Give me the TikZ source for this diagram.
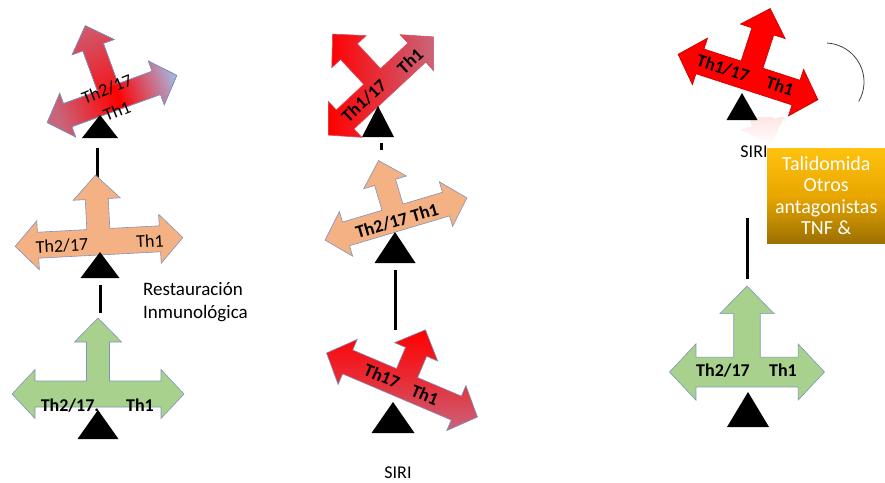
\documentclass[tikz,border=0pt]{standalone}
\usepackage{fontspec}
\setmainfont{Carlito}
\usetikzlibrary{calc}
\definecolor{sage}{HTML}{A9D18E}
\definecolor{peach}{HTML}{F4B183}
\definecolor{rose}{HTML}{C9647A}
\definecolor{skyish}{HTML}{A6BAE6}
\definecolor{slateedge}{HTML}{7F93BC}
\definecolor{tnftop}{HTML}{FFC20E}
\definecolor{tnfmid}{HTML}{E8A600}
\definecolor{tnfbot}{HTML}{9C7000}
\tikzset{
  fork/.style={draw=slateedge, line width=0.6pt, line join=miter},
  fulcrum/.style={fill=black},
  lever/.style={draw=black, line width=3pt},
  arcline/.style={draw=black!75, line width=0.8pt},
  lbl/.style={font=\fontsize{18}{21}\selectfont\bfseries, inner sep=0pt},
  lblr/.style={font=\fontsize{18}{21}\selectfont, inner sep=0pt},
  note/.style={font=\fontsize{19}{22.5}\selectfont, inner sep=0pt, align=left},
  tnfbox/.style={top color=tnftop, bottom color=tnfbot, middle color=tnfmid,
    text=white, align=center, minimum width=118pt, minimum height=95pt,
    inner sep=0pt, font=\fontsize{20}{21.5}\selectfont},
}
\newcommand{\forkpath}{(-\fkL,0) -- (-\fkL+\fkhl,-\fkhw) -- (-\fkL+\fkhl,-\fkt)
  -- (-\fktv,-\fkt) -- (-\fktv,-\fkV+\fkvl) -- (-\fkvw,-\fkV+\fkvl) -- (0,-\fkV)
  -- (\fkvw,-\fkV+\fkvl) -- (\fktv,-\fkV+\fkvl) -- (\fktv,-\fkt) -- (\fkL-\fkhl,-\fkt)
  -- (\fkL-\fkhl,-\fkhw) -- (\fkL,0) -- (\fkL-\fkhl,\fkhw) -- (\fkL-\fkhl,\fkt)
  -- (-\fkL+\fkhl,\fkt) -- (-\fkL+\fkhl,\fkhw) -- cycle}
\newcommand{\thfork}[6][]{%
  \pgfmathsetmacro\fkL{#4}\pgfmathsetmacro\fkV{#5}%
  \pgfmathsetmacro\fkt{13*#6}\pgfmathsetmacro\fkhw{24.5*#6}\pgfmathsetmacro\fkhl{23*#6}%
  \pgfmathsetmacro\fktv{11.5*#6}\pgfmathsetmacro\fkvw{23.5*#6}\pgfmathsetmacro\fkvl{24*#6}%
  \begin{scope}[shift={(#2)}, rotate=#3]
    \path[fork, #1] \forkpath;
  \end{scope}}
\newcommand{\pivot}[3]{\fill[fulcrum] (#1) -- ++(-#2,#3) -- ++(2*#2,0) -- cycle;}

\begin{document}
\begin{tikzpicture}[x=1pt, y=-1pt]
  \useasboundingbox (0,0) rectangle (885,482);

  \coordinate (fa1) at (112,99);
  \coordinate (fa2) at (99,242);
  \coordinate (fa3) at (98,394);
  \coordinate (fb1) at (381,86);
  \coordinate (fb2) at (396,219);
  \coordinate (fb3) at (402,385);
  \coordinate (fc1) at (748,77);
  \coordinate (fc2) at (747,372);

  \coordinate (pa1) at (100,115);
  \coordinate (pa2) at (100,252);
  \coordinate (pa3) at (98,410);
  \coordinate (pb1) at (378,106);
  \coordinate (pb2) at (395,232);
  \coordinate (pb3) at (393,402);
  \coordinate (pc1) at (742,93);
  \coordinate (pc2) at (748,392);

  \coordinate (la1) at (97,148);  \coordinate (la2) at (97,179);
  \coordinate (la3) at (100,285); \coordinate (la4) at (100,313);
  \coordinate (lb1) at (381,143); \coordinate (lb2) at (381,150);
  \coordinate (lb3) at (395,270); \coordinate (lb4) at (395,330);
  \coordinate (lc1) at (747,218); \coordinate (lc2) at (747,279);

  \draw[lever] (la1) -- (la2);
  \draw[lever] (la3) -- (la4);
  \draw[lever] (lb1) -- (lb2);
  \draw[lever] (lb3) -- (lb4);
  \draw[lever] (lc1) -- (lc2);

  % left column
  \thfork[left color=rose, right color=skyish, middle color=red, shading angle=110]{fa1}{20}{69}{78}{0.95}
  \begin{scope}[shift={(fa1)}, rotate=20]
    \begin{scope}
      \clip \forkpath;
      \shade[top color=rose, bottom color=red!80!rose, shading angle=20] (-30,-\fkV) rectangle (30,-\fkt);
    \end{scope}
    \path[fork] \forkpath;
  \end{scope}
  \thfork[fill=peach]{fa2}{3}{84}{67}{1}
  \thfork[fill=sage]{fa3}{0}{86}{76}{1}

  % middle column
  \thfork[left color=red, right color=rose, draw=rose!80!red]{fb1}{43}{72}{71}{1}
  \thfork[fill=peach]{fb2}{16.6}{74}{61}{0.95}
  \thfork[top color=red, bottom color=rose, middle color=red!55!rose]{fb3}{-23}{82}{60}{1}

  % right column
  \begin{scope}
    \clip (730,117) rectangle (845,160);
    \begin{scope}[shift={(0,240)}, yscale=-1]
      \thfork[draw=none, top color=red!55, bottom color=white, middle color=red!20]{fc1}{-18}{73.5}{72}{1}
    \end{scope}
  \end{scope}
  \thfork[fill=red, draw=red!75!black]{fc1}{-18}{73.5}{72}{1}
  \thfork[fill=sage]{fc2}{0}{77.5}{86}{1.15}

  \pivot{pa1}{18}{23}
  \pivot{pa2}{19.5}{26}
  \pivot{pa3}{20.5}{29}
  \pivot{pb1}{16}{31}
  \pivot{pb2}{20.5}{31}
  \pivot{pb3}{21.5}{31}
  \pivot{pc1}{15.5}{27}
  \pivot{pc2}{21}{35}

  \coordinate (arcc) at (825,82);
  \draw[arcline] (arcc) ++(-87:39) arc[start angle=-87, end angle=30, radius=39];

  \node[lblr, rotate=22] (a1l) at (107,89) {Th2/17};
  \node[lblr, rotate=22] (a1r) at (117,111) {Th1};
  \node[lblr, rotate=3] (a2l) at (62,246) {Th2/17};
  \node[lblr, rotate=3] (a2r) at (150,241) {Th1};
  \node[lbl, anchor=base] (a3l) at (70,411.5) {Th2/17.};
  \node[lbl, anchor=base] (a3r) at (140,411.5) {Th1};
  \node[note, anchor=west] (restaur) at (143,302) {Restauración\\Inmunológica};

  \node[lbl, rotate=43] (b1l) at (364,101) {Th1/17};
  \node[lbl, rotate=43] (b1r) at (410,61) {Th1};
  \node[lbl, rotate=16.6] (b2m) at (397,221) {Th2/17 Th1};
  \node[lbl, rotate=-23] (b3l) at (382,376) {Th17};
  \node[lbl, rotate=-23] (b3r) at (425,395) {Th1};
  \node[lblr] (siri2) at (398,473) {SIRI};

  \node[lbl, rotate=-18] (c1l) at (723,68) {Th1/17};
  \node[lbl, rotate=-18] (c1r) at (780,86) {Th1};
  \node[lblr] (siri3) at (754,152) {SIRI};
  \node[tnfbox, anchor=north west] (tnf) at (767,148) {Talidomida\\Otros\\antagonistas\\TNF \&};
  \node[lbl, anchor=base] (c2l) at (723,376) {Th2/17};
  \node[lbl, anchor=base] (c2r) at (783,376) {Th1};
\end{tikzpicture}
\end{document}
